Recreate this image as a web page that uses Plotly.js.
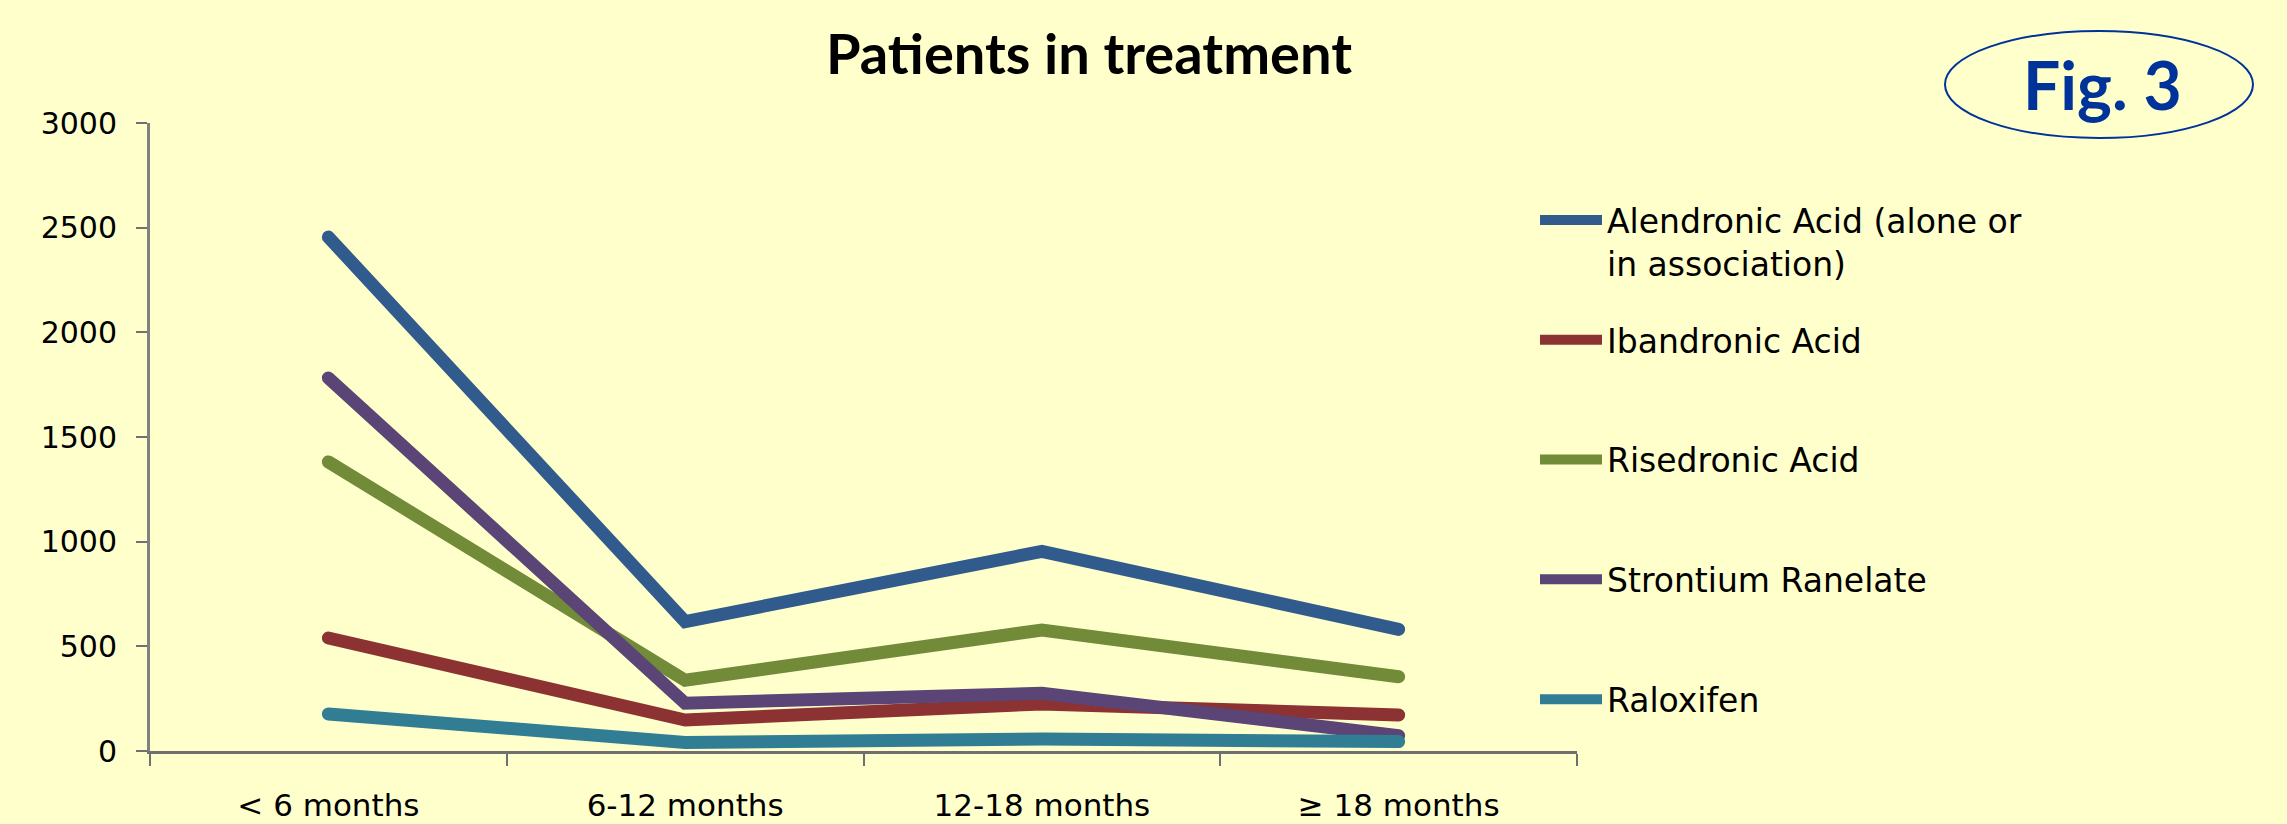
<!DOCTYPE html>
<html>
<head>
<meta charset="utf-8">
<script src="https://cdn.plot.ly/plotly-3.0.1.min.js"></script>
<style>
  html, body { margin: 0; padding: 0; background: #FFFFCC; }
  #chart { width: 2287px; height: 824px; }
  .scatterlayer .js-line { stroke-linecap: round !important; }
</style>
</head>
<body>
<div id="chart"></div>
<script>
// ---- data ----
const categories = ["< 6 months", "6-12 months", "12-18 months", "\u2265 18 months"];
const seriesNames = [
  "Alendronic Acid (alone or<br>in association)",
  "Ibandronic Acid<br>&nbsp;",
  "Risedronic Acid<br>&nbsp;",
  "Strontium Ranelate<br>&nbsp;",
  "Raloxifen"
];
const alendronic = [2455, 618, 954, 581];
const ibandronic = [540, 148, 225, 172];
const risedronic = [1381, 338, 578, 355];
const strontium  = [1782, 228, 276, 73];
const raloxifen  = [177, 41, 57, 45];
const seriesValues = [alendronic, ibandronic, risedronic, strontium, raloxifen];
const seriesColors = ["#315B8C", "#8C3232", "#718B39", "#5A4576", "#307D94"];
const yTicks = [0, 500, 1000, 1500, 2000, 2500, 3000];

const W = 2287, H = 824;
const plotL = 150, plotR = 1577, plotT = 123, plotB = 751;
const px2paperX = p => (p - plotL) / (plotR - plotL);
const px2paperY = p => (plotB - p) / (plotB - plotT);

const traces = seriesValues.map((vals, i) => ({
  type: "scatter",
  mode: "lines",
  x: categories,
  y: vals,
  name: seriesNames[i],
  legendgroup: "g" + i,
  line: { color: seriesColors[i], width: 13 },
  hoverinfo: "skip"
}));

const layout = {
  width: W, height: H,
  paper_bgcolor: "#FFFFCC",
  plot_bgcolor: "#FFFFCC",
  margin: { l: plotL, r: W - plotR, t: plotT, b: H - plotB, pad: 0, autoexpand: false },
  showlegend: true,
  title: {
    text: "<b>Patients in treatment</b>",
    font: { family: "Lato, 'Open Sans', sans-serif", size: 56, color: "#000000" },
    x: 1089 / W, xref: "container", xanchor: "center",
    y: 1 - 54 / H, yref: "container", yanchor: "middle"
  },
  xaxis: {
    type: "category",
    categoryorder: "array",
    categoryarray: categories,
    range: [-0.5, 3.5],
    tickson: "boundaries",
    ticks: "outside",
    ticklen: 12,
    tickwidth: 2,
    tickcolor: "#707070",
    showline: true,
    linecolor: "#707070",
    linewidth: 3,
    showgrid: false,
    zeroline: false,
    ticklabelstandoff: 25,
    tickfont: { family: "'DejaVu Sans', sans-serif", size: 31, color: "#000000" },
    fixedrange: true
  },
  yaxis: {
    range: [0, 3000],
    tickmode: "array",
    tickvals: yTicks,
    ticktext: yTicks.map(String),
    ticks: "outside",
    ticklen: 11,
    tickwidth: 2,
    tickcolor: "#707070",
    showline: true,
    linecolor: "#808080",
    linewidth: 3,
    showgrid: false,
    zeroline: false,
    ticklabelstandoff: 13,
    tickfont: { family: "'DejaVu Sans', sans-serif", size: 30, color: "#000000" },
    fixedrange: true
  },
  legend: {
    xref: "container", yref: "container",
    x: 1535 / W, xanchor: "left",
    y: 1 - 192 / H, yanchor: "top",
    bgcolor: "rgba(0,0,0,0)",
    borderwidth: 0,
    font: { family: "'DejaVu Sans', sans-serif", size: 33, color: "#000000" },
    itemwidth: 62,
    valign: "top",
    traceorder: "grouped",
    tracegroupgap: 31,
    maxheight: 800
  },
  shapes: [{
    type: "circle",
    xref: "paper", yref: "paper",
    x0: px2paperX(1945), x1: px2paperX(2253),
    y0: px2paperY(138), y1: px2paperY(31),
    line: { color: "#003399", width: 2 },
    fillcolor: "rgba(0,0,0,0)"
  }],
  annotations: [{
    text: "<b>Fig. 3</b>",
    xref: "paper", yref: "paper",
    x: px2paperX(2102), y: px2paperY(84),
    xanchor: "center", yanchor: "middle",
    showarrow: false,
    font: { family: "Lato, 'Open Sans', sans-serif", size: 66, color: "#003399" }
  }]
};

Plotly.newPlot("chart", traces, layout, { displayModeBar: false, staticPlot: true });
</script>
</body>
</html>
